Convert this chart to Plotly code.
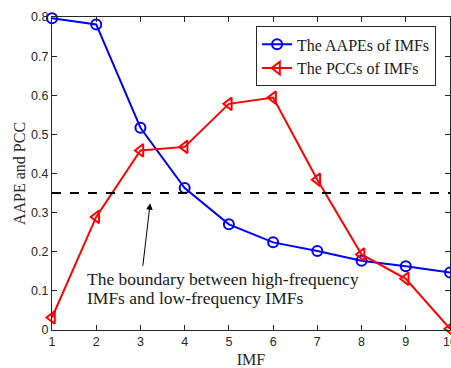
import plotly.graph_objects as go

imf = [1, 2, 3, 4, 5, 6, 7, 8, 9, 10]
aape = [0.797, 0.781, 0.517, 0.363, 0.270, 0.224, 0.202, 0.177, 0.163, 0.147]
pcc = [0.032, 0.289, 0.459, 0.468, 0.578, 0.594, 0.384, 0.193, 0.131, 0.003]
boundary = 0.35
y_ticks = [0, 0.1, 0.2, 0.3, 0.4, 0.5, 0.6, 0.7, 0.8]
y_tick_text = ["0", "0.1", "0.2", "0.3", "0.4", "0.5", "0.6", "0.7", "0.8"]
note_lines = ["The boundary between high-frequency", "IMFs and low-frequency IMFs"]

serif = "Liberation Serif, Times New Roman, serif"
sans = "Liberation Sans, Arial, sans-serif"

fig = go.Figure()
fig.add_trace(go.Scatter(
    x=imf, y=aape, mode="lines+markers", name="The AAPEs of IMFs",
    line=dict(color="#0000ff", width=2),
    marker=dict(symbol="circle-open", size=10, color="#0000ff", line=dict(width=2)),
    cliponaxis=False,
))
fig.add_trace(go.Scatter(
    x=imf, y=pcc, mode="lines+markers", name="The PCCs of IMFs",
    line=dict(color="#ff0000", width=2),
    marker=dict(symbol="triangle-left-open", size=11, color="#ff0000", line=dict(width=2)),
    cliponaxis=False,
))
fig.add_shape(type="line", xref="x", yref="y", x0=1, x1=10, y0=boundary, y1=boundary,
              line=dict(color="black", width=2, dash="dash"))
fig.add_annotation(x=3.22, y=0.324, ax=3.05, ay=0.16, xref="x", yref="y", axref="x", ayref="y",
                   showarrow=True, arrowhead=2, arrowsize=1.3, arrowwidth=1, arrowcolor="black",
                   text="")
for i, line in enumerate(note_lines):
    fig.add_annotation(x=0.083, y=0.163 - 0.062 * i, xref="paper", yref="paper",
                       xanchor="left", yanchor="middle", showarrow=False,
                       text=line, font=dict(family=serif, size=17.5, color="#1a1a1a"))

axis_common = dict(showline=True, linecolor="#262626", linewidth=1, mirror="ticks",
                   ticks="inside", ticklen=5, tickcolor="#262626", showgrid=False, zeroline=False,
                   automargin=False, ticklabeloverflow="allow",
                   tickfont=dict(family=sans, size=12.5, color="#262626"))
fig.update_xaxes(range=[1, 10], tickvals=imf, **axis_common,
                 title=dict(text="IMF", font=dict(family=serif, size=16, color="#262626"), standoff=6))
fig.update_yaxes(range=[0, 0.8], tickvals=y_ticks, ticktext=y_tick_text, **axis_common,
                 title=dict(text="AAPE and PCC", font=dict(family=serif, size=16, color="#262626"), standoff=1))

fig.update_layout(
    width=451, height=368,
    margin=dict(l=52, r=1, t=17, b=38),
    paper_bgcolor="white", plot_bgcolor="white",
    legend=dict(x=0.965, y=0.97, xanchor="right", yanchor="top",
                bgcolor="white", bordercolor="#262626", borderwidth=1,
                font=dict(family=serif, size=16, color="#1a1a1a"),
                tracegroupgap=0, itemwidth=30),
    showlegend=True,
)
fig.write_html("out.html", config={"displayModeBar": False},
               post_script="document.body.style.margin='0';document.body.style.padding='0';")
